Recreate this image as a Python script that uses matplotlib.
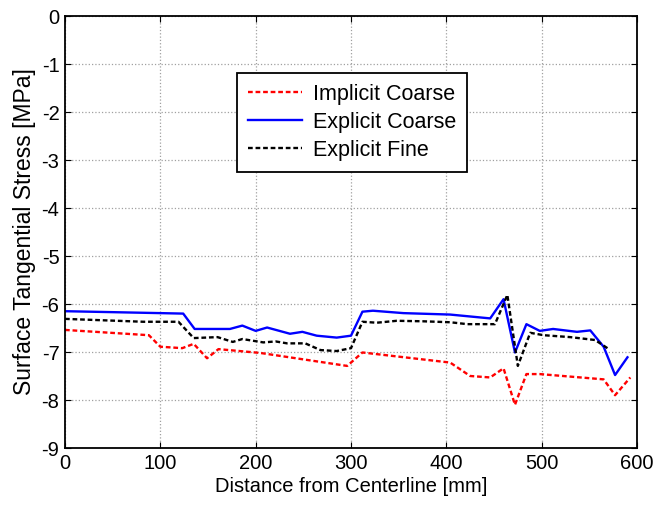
import matplotlib
matplotlib.use("Agg")
import matplotlib.pyplot as plt

plt.rcParams['font.family'] = ['Liberation Sans', 'DejaVu Sans']
plt.rcParams['axes.unicode_minus'] = False

implicit_x = [0, 88, 100, 123, 135, 149, 161, 205, 296, 312, 404, 425, 446, 460, 472, 484, 498, 565, 577, 593]
implicit_y = [-6.54, -6.65, -6.89, -6.92, -6.83, -7.13, -6.94, -7.02, -7.29, -7.01, -7.22, -7.5, -7.53, -7.34, -8.1, -7.46, -7.46, -7.57, -7.9, -7.53]

expl_c_x = [0, 100, 124, 136, 173, 186, 200, 212, 236, 249, 264, 285, 300, 312, 323, 355, 404, 425, 446, 460, 472, 484, 498, 512, 537, 551, 565, 577, 590]
expl_c_y = [-6.15, -6.19, -6.2, -6.52, -6.52, -6.45, -6.56, -6.49, -6.62, -6.58, -6.66, -6.7, -6.66, -6.16, -6.14, -6.19, -6.22, -6.26, -6.3, -5.9, -7.01, -6.42, -6.56, -6.52, -6.58, -6.55, -6.89, -7.48, -7.11]

expl_f_x = [0, 82, 100, 119, 135, 160, 176, 186, 208, 221, 233, 252, 268, 285, 300, 312, 327, 348, 375, 404, 422, 451, 464, 475, 488, 502, 530, 556, 569]
expl_f_y = [-6.31, -6.37, -6.37, -6.37, -6.71, -6.69, -6.79, -6.73, -6.8, -6.78, -6.82, -6.82, -6.96, -6.98, -6.92, -6.37, -6.39, -6.35, -6.36, -6.38, -6.42, -6.42, -5.81, -7.29, -6.6, -6.65, -6.69, -6.75, -6.92]

x_ticks = [0, 100, 200, 300, 400, 500, 600]
y_ticks = [0, -1, -2, -3, -4, -5, -6, -7, -8, -9]

fig = plt.figure(figsize=(6.54, 5.08), dpi=100)
ax = fig.add_axes([65/654, 1-448/508, (637-65)/654, (448-16)/508])

ax.plot(implicit_x, implicit_y, color='#ff0000', ls=(0, (2, 1.2)), lw=1.7, label='Implicit Coarse')
ax.plot(expl_c_x, expl_c_y, color='#0000ff', ls='-', lw=1.7, label='Explicit Coarse')
ax.plot(expl_f_x, expl_f_y, color='black', ls=(0, (2, 1.2)), lw=1.7, label='Explicit Fine')

ax.set_xlim(0, 600)
ax.set_ylim(-9, 0)
ax.set_xticks(x_ticks)
ax.set_yticks(y_ticks)
ax.tick_params(direction='in', labelsize=14.5, length=4, top=True, right=True, pad=4)
ax.grid(True, ls=':', color='#a0a0a0', lw=0.9)
for s in ax.spines.values():
    s.set_linewidth(1.3)
ax.set_xlabel('Distance from Centerline [mm]', fontsize=14.5, labelpad=3)
ax.set_ylabel('Surface Tangential Stress [MPa]', fontsize=16.5, labelpad=4)

leg = ax.legend(loc='upper left', bbox_to_anchor=((237-65)/572, 1-(73-16)/432), fontsize=15.5,
                frameon=True, fancybox=False, edgecolor='black', framealpha=1,
                handlelength=2.5, borderpad=0.5, labelspacing=0.33, handletextpad=0.55,
                borderaxespad=0)
leg.get_frame().set_linewidth(1.3)

fig.savefig('out.png', dpi=100)
